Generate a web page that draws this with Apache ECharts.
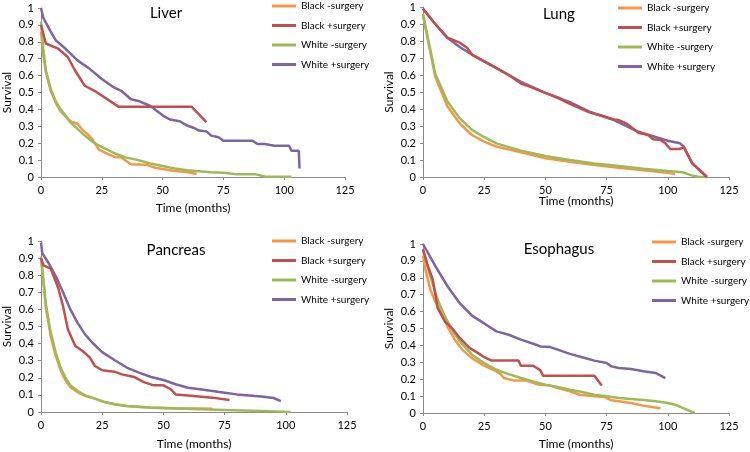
<!DOCTYPE html>
<html><head><meta charset="utf-8">
<script src="https://cdn.jsdelivr.net/npm/echarts@6/dist/echarts.min.js"></script>
<style>html,body{margin:0;padding:0;background:#fff}#c{width:750px;height:452px}</style>
</head><body><div id="c"></div>
<script>
const panelTitles = ["Liver", "Lung", "Pancreas", "Esophagus"];
const seriesNames = ["Black -surgery", "Black +surgery", "White -surgery", "White +surgery"];
const xTicks = [0, 25, 50, 75, 100, 125];
const yAxisTitle = "Survival";
const xAxisTitle = "Time (months)";

// Liver
const liverBlackMinus = [[0,0.86],[1,0.72],[2,0.62],[4,0.51],[6,0.44],[8,0.39],[10,0.36],[12,0.33],[15,0.315],[17,0.28],[19,0.255],[21,0.225],[24,0.16],[27,0.14],[30,0.12],[33,0.115],[37,0.075],[43,0.073],[47,0.055],[55,0.035],[60,0.03],[64,0.018]];
const liverBlackPlus = [[0,0.9],[2,0.79],[7,0.76],[11,0.71],[14,0.63],[18,0.54],[22,0.51],[32,0.415],[62,0.415],[68,0.325]];
const liverWhiteMinus = [[0,0.92],[1,0.75],[2,0.63],[4,0.52],[6,0.45],[8,0.40],[10,0.365],[12,0.325],[15,0.285],[18,0.245],[22,0.20],[25,0.178],[30,0.142],[35,0.115],[40,0.10],[45,0.08],[50,0.065],[55,0.05],[60,0.04],[70,0.028],[75,0.025],[80,0.017],[88,0.017],[92,0.003],[103,0.002]];
const liverWhitePlus = [[0,1.0],[1,0.94],[4,0.86],[6,0.81],[10,0.76],[15,0.69],[20,0.64],[25,0.58],[30,0.53],[33,0.51],[37,0.46],[40,0.45],[45,0.42],[50,0.365],[53,0.34],[57,0.33],[60,0.305],[63,0.29],[65,0.275],[68,0.27],[70,0.245],[73,0.235],[75,0.215],[80,0.215],[87,0.215],[89,0.195],[92,0.195],[96,0.185],[102,0.185],[103,0.155],[106,0.155],[106.3,0.05]];

// Lung
const lungBlackMinus = [[0,0.95],[5,0.59],[10,0.415],[15,0.316],[20,0.247],[25,0.208],[30,0.179],[40,0.145],[50,0.11],[60,0.09],[70,0.07],[80,0.055],[90,0.04],[100,0.025],[103,0.018]];
const lungBlackPlus = [[0,0.99],[5,0.9],[10,0.82],[15,0.79],[18,0.76],[20,0.72],[25,0.68],[30,0.64],[35,0.6],[40,0.55],[42,0.54],[50,0.495],[55,0.465],[60,0.43],[68,0.38],[72,0.365],[78,0.338],[80,0.335],[83,0.316],[88,0.26],[92,0.247],[94,0.222],[97,0.218],[99,0.198],[101,0.165],[105,0.165],[106.5,0.175],[110,0.08],[116,0.0]];
const lungWhiteMinus = [[0,0.96],[5,0.607],[10,0.444],[15,0.346],[20,0.277],[25,0.234],[30,0.198],[40,0.155],[50,0.124],[60,0.10],[70,0.08],[80,0.065],[90,0.049],[100,0.035],[106,0.028],[110,0.008],[113,0.0],[116,0.0]];
const lungWhitePlus = [[0,0.99],[5,0.9],[10,0.817],[15,0.765],[20,0.72],[25,0.68],[30,0.64],[40,0.56],[50,0.495],[56,0.463],[60,0.44],[68,0.384],[78,0.335],[88,0.266],[95,0.235],[100,0.213],[105,0.198],[106.5,0.18],[110,0.08],[113,0.04],[116,0.0]];

// Pancreas
const pancBlackMinus = [[0,0.9],[2,0.61],[4,0.44],[6,0.33],[8,0.245],[10,0.185],[12,0.145],[15,0.115],[18,0.095],[22,0.078],[26,0.058],[30,0.045],[35,0.035],[45,0.027],[55,0.022],[65,0.02],[70,0.019]];
const pancBlackPlus = [[0,0.9],[1,0.857],[4,0.838],[7,0.727],[9,0.62],[11,0.483],[14,0.386],[17,0.357],[20,0.318],[22,0.269],[25,0.244],[30,0.236],[33,0.22],[38,0.205],[42,0.175],[46,0.156],[50,0.156],[53,0.133],[55,0.103],[60,0.097],[70,0.084],[77,0.07]];
const pancWhiteMinus = [[0,0.91],[2,0.63],[4,0.464],[6,0.347],[8,0.26],[10,0.20],[12,0.156],[15,0.123],[18,0.097],[22,0.078],[26,0.058],[30,0.045],[35,0.035],[45,0.025],[55,0.02],[65,0.016],[75,0.012],[90,0.006],[102,0.0]];
const pancWhitePlus = [[0,0.99],[0.5,0.93],[3,0.873],[6,0.795],[9,0.70],[12,0.60],[15,0.52],[18,0.454],[21,0.405],[25,0.35],[30,0.304],[35,0.26],[40,0.23],[45,0.205],[50,0.187],[55,0.162],[60,0.142],[65,0.133],[70,0.123],[75,0.113],[80,0.103],[85,0.097],[90,0.09],[95,0.082],[98,0.064]];

// Esophagus
const esoBlackMinus = [[0,0.93],[1,0.85],[3,0.73],[5,0.66],[8,0.58],[10,0.513],[13,0.434],[16,0.375],[20,0.325],[25,0.28],[30,0.247],[32,0.227],[33,0.207],[37,0.193],[42,0.193],[47,0.168],[52,0.162],[55,0.148],[60,0.128],[64,0.108],[70,0.099],[74,0.095],[77,0.075],[85,0.059],[90,0.043],[97,0.028]];
const esoBlackPlus = [[0,0.97],[2,0.87],[4,0.79],[6,0.62],[9,0.54],[12,0.50],[15,0.444],[19,0.385],[23,0.35],[25,0.33],[28,0.31],[39,0.31],[40,0.28],[45,0.28],[48,0.252],[49,0.22],[70,0.22],[73,0.162]];
const esoWhiteMinus = [[0,0.96],[3,0.81],[6,0.67],[9,0.57],[12,0.49],[15,0.424],[20,0.345],[25,0.296],[30,0.256],[35,0.23],[40,0.207],[45,0.187],[50,0.168],[55,0.154],[60,0.138],[65,0.124],[70,0.108],[75,0.099],[80,0.089],[85,0.083],[90,0.077],[95,0.069],[100,0.059],[103,0.049],[107,0.024],[111,0.0]];
const esoWhitePlus = [[0,1.0],[5,0.87],[10,0.75],[15,0.65],[20,0.576],[25,0.53],[30,0.483],[35,0.463],[40,0.434],[45,0.41],[48,0.394],[52,0.39],[55,0.375],[60,0.35],[65,0.33],[70,0.31],[75,0.296],[77,0.276],[80,0.266],[85,0.26],[90,0.247],[95,0.237],[99,0.207]];

const panelData = [
  [liverBlackMinus, liverBlackPlus, liverWhiteMinus, liverWhitePlus],
  [lungBlackMinus, lungBlackPlus, lungWhiteMinus, lungWhitePlus],
  [pancBlackMinus, pancBlackPlus, pancWhiteMinus, pancWhitePlus],
  [esoBlackMinus, esoBlackPlus, esoWhiteMinus, esoWhitePlus]
];
const colors = ["#F79646", "#C0504D", "#9BBB59", "#8064A2"];
const FONT = "Lato";

const grids = [
  {left: 40, top: 8, width: 305, height: 169},
  {left: 423, top: 7, width: 306, height: 170},
  {left: 41, top: 241, width: 306, height: 171},
  {left: 423, top: 244, width: 306, height: 169}
];
const yNameGap = [28, 28, 28, 28];
const xNameGap = [25, 18, 26, 25];
const legendPos = [{left: 272, top: -1}, {left: 618, top: 1}, {left: 272, top: 234}, {left: 652, top: 235}];
const titlePos = [[166, 13], [559, 14], [176, 250], [559, 249]];

const chart = echarts.init(document.getElementById('c'), null, {renderer: 'canvas'});
const axisLine = {show: true, lineStyle: {color: '#8a8a8a', width: 1}};
const option = {
  animation: false,
  color: colors,
  textStyle: {fontFamily: FONT},
  grid: grids.map(g => Object.assign({containLabel: false}, g)),
  xAxis: grids.map((g, i) => ({
    gridIndex: i, type: 'value', min: 0, max: 125, interval: 25,
    name: xAxisTitle, nameLocation: 'middle', nameGap: xNameGap[i], nameMoveOverlap: false,
    nameTextStyle: {fontSize: 12, color: '#000', fontFamily: FONT},
    axisLine: axisLine, axisTick: {show: true, length: 3, lineStyle: {color: '#8a8a8a'}},
    splitLine: {show: false},
    axisLabel: {fontSize: 11, color: '#000', margin: 8, fontFamily: FONT,
      formatter: v => xTicks.includes(v) ? String(v) : ''}
  })),
  yAxis: grids.map((g, i) => ({
    gridIndex: i, type: 'value', min: 0, max: 1, interval: 0.1,
    name: yAxisTitle, nameLocation: 'middle', nameGap: yNameGap[i], nameRotate: 90, nameMoveOverlap: false,
    nameTextStyle: {fontSize: 12, color: '#000', fontFamily: FONT},
    axisLine: axisLine, axisTick: {show: true, length: 3, lineStyle: {color: '#8a8a8a'}},
    splitLine: {show: false},
    axisLabel: {fontSize: 11, color: '#000', margin: 7, fontFamily: FONT,
      formatter: v => String(Math.round(v * 10) / 10)}
  })),
  legend: legendPos.map(p => ({
    left: p.left, top: p.top, orient: 'vertical', padding: 0,
    itemWidth: 24, itemHeight: 3, itemGap: 5.5, icon: 'rect',
    data: seriesNames,
    textStyle: {fontSize: 10, color: '#000', fontFamily: FONT, lineHeight: 14}
  })),
  graphic: panelTitles.map((t, i) => ({
    type: 'text', x: titlePos[i][0], y: titlePos[i][1],
    style: {text: t, fontSize: 15, fontFamily: FONT, fill: '#000', align: 'center', verticalAlign: 'middle'}
  })),
  series: []
};
panelData.forEach((arr, p) => {
  arr.forEach((d, k) => {
    option.series.push({
      type: 'line', name: seriesNames[k], xAxisIndex: p, yAxisIndex: p,
      data: d, symbol: 'none', smooth: false,
      lineStyle: {width: 2.5, color: colors[k]}, itemStyle: {color: colors[k]},
      z: 2 + (k === 1 ? 1 : 0)
    });
  });
});
chart.setOption(option);
</script></body></html>
